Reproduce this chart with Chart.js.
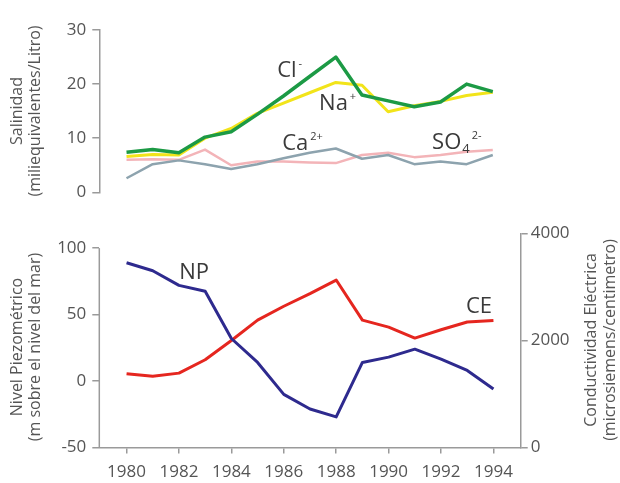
<!DOCTYPE html>
<html>
<head>
<meta charset="utf-8">
<script src="https://cdn.jsdelivr.net/npm/chart.js@4.4.1/dist/chart.umd.min.js"></script>
<style>
  body { margin: 0; background: #fff; }
  #wrap { position: relative; width: 620px; height: 483px; }
  canvas { position: absolute; left: 0; }
</style>
</head>
<body>
<div id="wrap">
  <canvas id="topChart" width="620" height="215" style="top:0"></canvas>
  <canvas id="bottomChart" width="620" height="268" style="top:215px"></canvas>
</div>
<script>
// --- data ---
const years = [1980, 1981, 1982, 1983, 1984, 1985, 1986, 1987, 1988, 1989, 1990, 1991, 1992, 1993, 1994];

// salinidad (meq/L)
const cloruro  = [7.4, 7.9, 7.3, 10.2, 11.2, 14.4, 17.8, 21.4, 25.0, 18.0, 16.9, 15.8, 16.7, 20.0, 18.6];
const sodio    = [6.6, 7.0, 6.9, 10.0, 11.8, 14.6, 16.5, 18.4, 20.3, 19.8, 14.9, 16.0, 16.8, 17.9, 18.5];
const calcio   = [2.6, 5.2, 5.9, 5.2, 4.3, 5.2, 6.3, 7.3, 8.1, 6.2, 6.9, 5.2, 5.7, 5.2, 6.9];
const sulfato  = [6.0, 6.1, 6.0, 7.9, 5.0, 5.7, 5.7, 5.5, 5.4, 6.9, 7.3, 6.5, 6.9, 7.5, 7.8];

// nivel piezometrico (m) y conductividad (microS/cm)
const nivelNP  = [89, 83, 72, 67.5, 32, 14, -10, -21, -27, 14, 18, 24, 16.5, 8, -6];
const condCE   = [1380, 1330, 1390, 1640, 2000, 2380, 2640, 2875, 3130, 2380, 2250, 2045, 2200, 2345, 2376];

const xTicks      = [1980, 1982, 1984, 1986, 1988, 1990, 1992, 1994];
const salTicks    = [0, 10, 20, 30];
const npTicks     = [-50, 0, 50, 100];
const ceTicks     = [0, 2000, 4000];

const FONT = '"Open Sans", sans-serif';
const AXIS = '#9a9a9a';
const TICK_TXT = '#555';

const pts = vals => years.map((y, i) => ({ x: y, y: vals[i] }));

function line(label, vals, color, width, axis) {
  return {
    label, data: pts(vals), borderColor: color, borderWidth: width,
    pointRadius: 0, tension: 0, fill: false, borderJoinStyle: 'round',
    yAxisID: axis || 'y'
  };
}

// axis titles, rotated, two lines
const titlePlugin = {
  id: 'axisTitles',
  afterDraw(chart, args, opts) {
    const ctx = chart.ctx;
    ctx.save();
    ctx.fillStyle = TICK_TXT;
    ctx.font = '16px ' + FONT;
    ctx.textAlign = 'center';
    ctx.textBaseline = 'middle';
    (opts.items || []).forEach(t => {
      ctx.save();
      ctx.translate(t.x, t.y);
      ctx.rotate(-Math.PI / 2);
      t.lines.forEach((ln, i) => ctx.fillText(ln, 0, i * t.gap));
      ctx.restore();
    });
    ctx.restore();
  }
};

// series names written next to the lines
const labelPlugin = {
  id: 'seriesNames',
  afterDatasetsDraw(chart, args, opts) {
    const ctx = chart.ctx;
    const xs = chart.scales.x;
    ctx.save();
    ctx.fillStyle = '#3a3a3a';
    ctx.textAlign = 'left';
    ctx.textBaseline = 'alphabetic';
    (opts.items || []).forEach(it => {
      const ys = chart.scales[it.axis || 'y'];
      let x = xs.getPixelForValue(it.x);
      const y = ys.getPixelForValue(it.y);
      ctx.font = '22px ' + FONT;
      ctx.fillText(it.text, x, y);
      x += ctx.measureText(it.text).width;
      if (it.sub) {
        ctx.font = '13px ' + FONT;
        ctx.fillText(it.sub, x + 1, y + 4);
        x += ctx.measureText(it.sub).width + 1;
      }
      if (it.sup) {
        ctx.font = '11px ' + FONT;
        ctx.fillText(it.sup, x + 2, y - 10);
      }
    });
    ctx.restore();
  }
};

// left axis line of the lower panel only spans -50..100
const shortAxisPlugin = {
  id: 'shortAxis',
  afterDraw(chart) {
    const s = chart.scales.y;
    if (!chart.options.plugins.shortAxis) return;
    const ctx = chart.ctx;
    const x = chart.chartArea.left;
    ctx.save();
    ctx.strokeStyle = AXIS;
    ctx.lineWidth = 1.5;
    ctx.beginPath();
    ctx.moveTo(x, s.getPixelForValue(npTicks[npTicks.length - 1]));
    ctx.lineTo(x, s.getPixelForValue(npTicks[0]));
    ctx.stroke();
    ctx.restore();
  }
};

const setTicks = list => scale => { scale.ticks = list.map(v => ({ value: v })); };
const tickStyle = pad => ({ color: TICK_TXT, font: { family: FONT, size: 17 }, padding: pad, callback: v => String(v) });
const gridStyle = len => ({ drawOnChartArea: false, tickLength: len, color: AXIS, lineWidth: 1.5 });

const xMin = 1978.96, xMax = 1995.04;

new Chart(document.getElementById('topChart').getContext('2d'), {
  type: 'line',
  data: {
    datasets: [
      line('Cl-', cloruro, '#1c9a45', 3.5),
      line('Na+', sodio, '#f2e41a', 3),
      line('Ca2+', calcio, '#8da3ae', 2.5),
      line('SO4 2-', sulfato, '#f3b4b8', 2.5)
    ]
  },
  options: {
    responsive: false,
    animation: false,
    layout: { padding: { top: 30, right: 100, bottom: 22.7, left: 0 } },
    scales: {
      x: { type: 'linear', display: false, min: xMin, max: xMax },
      y: {
        min: 0, max: 30,
        afterBuildTicks: setTicks(salTicks),
        afterFit: s => { s.width = 99.3; },
        grid: gridStyle(7),
        border: { color: AXIS, width: 1.5 },
        ticks: tickStyle(6)
      }
    },
    plugins: {
      legend: { display: false },
      tooltip: { enabled: false },
      axisTitles: { items: [{ x: 17, y: 111, gap: 18, lines: ['Salinidad', '(miliequivalentes/Litro)'] }] },
      seriesNames: {
        items: [
          { text: 'Cl', sup: '-', x: 1985.76, y: 21.3 },
          { text: 'Na', sup: '+', x: 1987.36, y: 15.2 },
          { text: 'Ca', sup: '2+', x: 1985.95, y: 7.8 },
          { text: 'SO', sub: '4', sup: '2-', x: 1991.68, y: 8.0 }
        ]
      }
    }
  },
  plugins: [titlePlugin, labelPlugin]
});

new Chart(document.getElementById('bottomChart').getContext('2d'), {
  type: 'line',
  data: {
    datasets: [
      line('NP', nivelNP, '#2e2a8e', 3, 'y'),
      line('CE', condCE, '#e5261f', 3, 'y2')
    ]
  },
  options: {
    responsive: false,
    animation: false,
    layout: { padding: { top: 18.5, right: 0, bottom: 0, left: 0 } },
    scales: {
      x: {
        type: 'linear', min: xMin, max: xMax,
        afterBuildTicks: setTicks(xTicks),
        afterFit: s => { s.height = 35.5; },
        grid: gridStyle(6),
        border: { color: AXIS, width: 1.5 },
        ticks: tickStyle(8)
      },
      y: {
        position: 'left', min: -50, max: 111,
        afterBuildTicks: setTicks(npTicks),
        afterFit: s => { s.width = 99.3; },
        grid: gridStyle(7),
        border: { display: false },
        ticks: tickStyle(6)
      },
      y2: {
        position: 'right', min: 0, max: 4000,
        afterBuildTicks: setTicks(ceTicks),
        afterFit: s => { s.width = 99.3; },
        grid: gridStyle(7),
        border: { color: AXIS, width: 1.5 },
        ticks: tickStyle(3)
      }
    },
    plugins: {
      legend: { display: false },
      tooltip: { enabled: false },
      shortAxis: true,
      axisTitles: {
        items: [
          { x: 17, y: 132, gap: 18, lines: ['Nivel Piezométrico', '(m sobre el nivel del mar)'] },
          { x: 591, y: 125, gap: 19, lines: ['Conductividad Eléctrica', '(microsiemens/centimetro)'] }
        ]
      },
      seriesNames: {
        items: [
          { text: 'NP', x: 1982.01, y: 76.6 },
          { text: 'CE', x: 1992.95, y: 51.3 }
        ]
      }
    }
  },
  plugins: [titlePlugin, labelPlugin, shortAxisPlugin]
});
</script>
</body>
</html>
